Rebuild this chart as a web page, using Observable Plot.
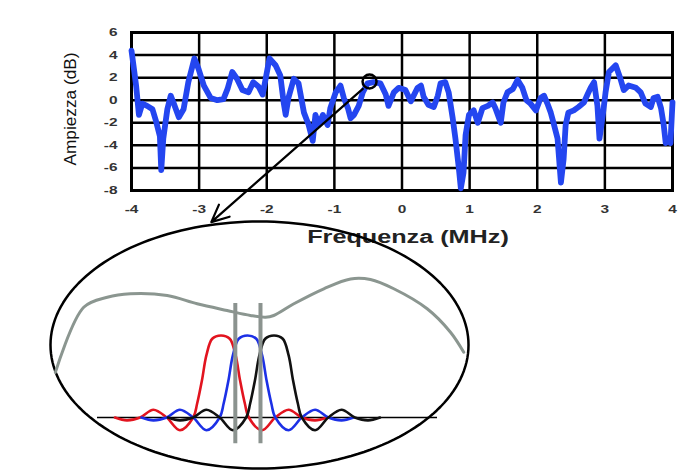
<!DOCTYPE html>
<html><head><meta charset="utf-8">
<script src="https://cdn.jsdelivr.net/npm/d3@7"></script>
<script src="https://cdn.jsdelivr.net/npm/@observablehq/plot@0.6"></script>
<style>
html,body{margin:0;padding:0;background:#fff;}
#wrap{position:relative;width:690px;height:474px;overflow:hidden;}
#wrap svg{position:absolute;left:0;top:0;}
</style></head><body><div id="wrap"></div>
<script>
// ---- main chart data (frequency MHz, amplitude dB) ----
const freq = [-4.00,-3.96,-3.93,-3.89,-3.84,-3.77,-3.69,-3.64,-3.58,-3.56,-3.53,-3.47,-3.42,-3.38,-3.30,-3.23,-3.16,-3.07,-3.01,-2.93,-2.83,-2.73,-2.64,-2.58,-2.51,-2.44,-2.36,-2.27,-2.20,-2.12,-2.06,-1.96,-1.87,-1.80,-1.75,-1.72,-1.68,-1.60,-1.53,-1.45,-1.38,-1.32,-1.28,-1.23,-1.17,-1.10,-1.06,-0.98,-0.91,-0.86,-0.80,-0.76,-0.71,-0.64,-0.58,-0.51,-0.42,-0.32,-0.24,-0.20,-0.12,-0.05,0.05,0.13,0.23,0.28,0.32,0.39,0.47,0.53,0.57,0.64,0.69,0.75,0.79,0.84,0.87,0.91,0.94,0.99,1.06,1.12,1.19,1.27,1.34,1.38,1.46,1.50,1.56,1.64,1.71,1.78,1.84,1.90,1.98,2.05,2.10,2.15,2.20,2.24,2.30,2.35,2.39,2.42,2.46,2.54,2.61,2.69,2.75,2.79,2.84,2.89,2.92,2.97,3.01,3.06,3.16,3.23,3.28,3.35,3.46,3.53,3.60,3.68,3.72,3.78,3.83,3.87,3.90,3.95,3.97,4.00];
const amp  = [4.4,2.6,1.2,-1.3,-0.3,-0.5,-0.8,-1.8,-3.2,-6.2,-3.4,-0.8,0.4,-0.2,-1.5,-0.8,1.6,3.7,2.8,1.3,0.2,0.0,0.1,1.0,2.5,1.9,0.9,0.7,1.6,1.2,0.5,3.7,3.1,2.2,-0.2,-1.3,0.2,1.9,1.5,-1.1,-2.2,-3.6,-1.3,-2.2,-1.3,-2.2,-0.7,0.7,1.3,0.2,-0.7,-1.6,-1.3,-0.5,0.7,1.5,1.6,1.5,0.5,-0.5,0.7,1.1,0.9,-0.1,1.1,1.3,0.3,-0.4,-0.6,0.4,1.5,1.6,0.7,-1.6,-3.4,-6.0,-7.8,-6.4,-3.1,-1.3,-0.9,-2.0,-0.7,-0.5,-0.2,-0.7,-2.0,-0.2,0.7,1.0,1.8,1.1,0.0,-0.3,-0.9,0.2,0.4,-0.3,-1.1,-2.0,-3.4,-7.3,-5.2,-2.2,-1.1,-0.9,-0.6,-0.2,0.6,1.1,1.6,-0.5,-3.4,-1.3,0.7,2.5,3.1,1.9,0.9,1.3,1.1,0.7,-0.3,-0.6,0.2,0.3,-0.7,-2.2,-3.8,-3.4,-3.8,-0.2];
const xTicks = [-4,-3,-2,-1,0,1,2,3,4];
const yTicks = [-8,-6,-4,-2,0,2,4,6];
const xLabel = "Frequenza (MHz)";
const yLabel = "Ampiezza (dB)";
const markerX = [-0.48], markerY = [1.66];
const arrowFrom = [-0.58, 1.0], arrowTo = [-2.82, -10.8];

// ---- inset data (subcarrier units, normalised amplitude) ----
const pulseOffset = [-4.0,-3.55,-3.05,-2.55,-2.05,-1.55,-1.05,-0.9,-0.72,-0.55,-0.33,0,0.33,0.55,0.72,0.9,1.05,1.55,2.05,2.55,3.05,3.55,4.0];
const pulseValue  = [0,-0.035,0,0.095,0,-0.155,0,0.17,0.45,0.76,0.96,1,0.96,0.76,0.45,0.17,0,-0.155,0,0.095,0,-0.035,0];
const carrierCenters = [-1, 0, 1];
const envU = [-7.25,-6.18,-5.29,-4.42,-3.03,-1.90,-0.77,0.11,0.68,0.99,1.75,2.88,3.89,4.64,5.52,6.78,7.66,8.16];
const envV = [0.55,1.345,1.467,1.509,1.488,1.387,1.305,1.244,1.223,1.244,1.387,1.57,1.69,1.683,1.57,1.326,1.04,0.796];
const sampleAt = [-0.46, 0.49];
const sampleSpan = [-0.32, 1.39];
const baselineSpan = [-5.66, 7.17];
const lens = {cu: 0.453, cv: 0.884, ru: 7.887, rv: 1.506};

const FONT = "'Liberation Sans', Arial, Helvetica, sans-serif";
const spectrum = freq.map((f, i) => ({f, a: amp[i]}));

const main = Plot.plot({
  width: 690, height: 474,
  marginLeft: 131, marginRight: 18, marginTop: 32, marginBottom: 284,
  style: {fontFamily: FONT, fontSize: "11px", fontWeight: "bold", color: "#333", background: "transparent"},
  x: {domain: [-4, 4], axis: null},
  y: {domain: [-8, 6], axis: null},
  marks: [
    Plot.gridX(xTicks, {stroke: "#000", strokeOpacity: 1, strokeWidth: 2.5}),
    Plot.gridY(yTicks, {stroke: "#000", strokeOpacity: 1, strokeWidth: 2.5}),
    Plot.frame({stroke: "#000", strokeWidth: 3}),
    Plot.axisX(xTicks, {tickSize: 0, tickPadding: 15, tickFormat: d => String(d), label: null, fontSize: 11}),
    Plot.axisY(yTicks, {tickSize: 0, tickPadding: 14, tickFormat: d => String(d), label: null, fontSize: 11}),
    Plot.line(spectrum, {x: "f", y: "a", stroke: "#2446f0", strokeWidth: 5.8, strokeLinejoin: "round", strokeLinecap: "round"}),
    Plot.dot(markerX.map((x, i) => ({x, y: markerY[i]})), {x: "x", y: "y", r: 7, stroke: "#000", strokeWidth: 2.5, fill: "none"}),
    Plot.arrow([{x1: arrowFrom[0], y1: arrowFrom[1], x2: arrowTo[0], y2: arrowTo[1]}],
      {x1: "x1", y1: "y1", x2: "x2", y2: "y2", stroke: "#000", strokeWidth: 2.2, headLength: 13, headAngle: 50}),
    Plot.text([xLabel], {text: d => d, frameAnchor: "bottom", dx: 6, dy: 46.5, lineAnchor: "middle", textAnchor: "middle",
      fontSize: 18, fontWeight: "bold", fill: "#222"}),
    Plot.text([yLabel], {text: d => d, frameAnchor: "left", dx: -61, dy: -2.5, rotate: -90, lineAnchor: "middle", textAnchor: "middle",
      fontSize: 17, fontWeight: "normal", fill: "#111"})
  ]
});

const ellipsePts = d3.range(0, 361, 2).map(a => ({
  u: lens.cu + lens.ru * Math.cos(a * Math.PI / 180),
  v: lens.cv + lens.rv * Math.sin(a * Math.PI / 180)
}));
const envelope = envU.map((u, i) => ({u, v: envV[i]}));
const pulses = carrierCenters.map(c => pulseOffset.map((o, i) => ({u: c + o, v: pulseValue[i]})));
const pulseColors = ["#e2141f", "#1c30e6", "#111111"];

const inset = Plot.plot({
  width: 690, height: 474, margin: 0,
  style: {background: "transparent"},
  x: {domain: [-8, 9], range: [35, 485.5], axis: null},
  y: {domain: [-0.6, 2.6], range: [466.2, 203.8], axis: null},
  marks: [
    Plot.line(ellipsePts, {x: "u", y: "v", stroke: "#000", strokeWidth: 2.5}),
    Plot.line(envelope, {x: "u", y: "v", stroke: "#8b9690", strokeWidth: 3, curve: "catmull-rom"}),
    Plot.ruleY([0], {x1: baselineSpan[0], x2: baselineSpan[1], stroke: "#000", strokeWidth: 1.3}),
    ...pulses.map((p, k) => Plot.line(p, {x: "u", y: "v", stroke: pulseColors[k], strokeWidth: 2.6, curve: "catmull-rom"})),
    Plot.ruleX(sampleAt, {y1: sampleSpan[0], y2: sampleSpan[1], stroke: "#8b938f", strokeWidth: 4})
  ]
});

const wrap = document.getElementById("wrap");
wrap.append(main);
wrap.append(inset);

d3.select(main).selectAll("text").each(function() {
  const t = this.textContent;
  if (t === yLabel) {
    this.setAttribute("textLength", 113);
  } else {
    this.setAttribute("textLength", this.getComputedTextLength() * 1.4);
  }
  this.setAttribute("lengthAdjust", "spacingAndGlyphs");
});
</script></body></html>
